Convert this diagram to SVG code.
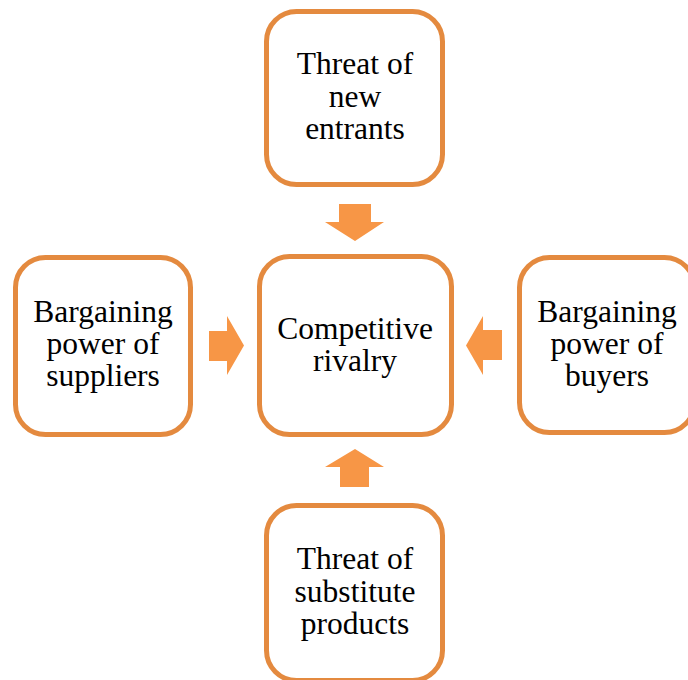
<svg xmlns="http://www.w3.org/2000/svg" width="688" height="680" viewBox="0 0 688 680">
  <style>
    .box { fill: #ffffff; stroke: #E48A3F; stroke-width: 5; }
    .arrow { fill: #F79646; stroke: none; }
    .label { font-family: 'Liberation Serif', 'Times New Roman', Tinos, 'DejaVu Serif', serif; font-size: 31.5px; fill: #000000; text-anchor: middle; }
  </style>
  <rect width="688" height="680" fill="#ffffff"/>

  <g id="connectors">
    <!-- down arrow from top node -->
    <polygon class="arrow" points="339,204 371,204 371,222 384,222 355,241 325,222 339,222"/>
    <!-- right arrow from left node -->
    <polygon class="arrow" points="209,331 227,331 227,316 244,345.5 227,375 227,361 209,361"/>
    <!-- left arrow from right node -->
    <polygon class="arrow" points="502,330 483,330 483,316 466,345.5 483,375 483,360 502,360"/>
    <!-- up arrow from bottom node -->
    <polygon class="arrow" points="340,487 369,487 369,467 384,467 355,449 325,467 340,467"/>
  </g>

  <g id="node-new-entrants">
    <rect class="box" x="266.5" y="11.5" width="176" height="173" rx="30"/>
    <text class="label" x="355" y="74" font-family="Liberation Serif, serif">Threat of</text>
    <text class="label" x="355" y="107" font-family="Liberation Serif, serif">new</text>
    <text class="label" x="355" y="139" font-family="Liberation Serif, serif">entrants</text>
  </g>

  <g id="node-rivalry">
    <rect class="box" x="259.5" y="256.5" width="192" height="178" rx="30"/>
    <text class="label" x="355" y="339">Competitive</text>
    <text class="label" x="355" y="371">rivalry</text>
  </g>

  <g id="node-suppliers">
    <rect class="box" x="15.5" y="257.5" width="175" height="177" rx="30"/>
    <text class="label" x="103" y="322">Bargaining</text>
    <text class="label" x="103" y="354">power of</text>
    <text class="label" x="103" y="386">suppliers</text>
  </g>

  <g id="node-buyers">
    <rect class="box" x="519.5" y="257.5" width="175" height="175" rx="30"/>
    <text class="label" x="607" y="322">Bargaining</text>
    <text class="label" x="607" y="354">power of</text>
    <text class="label" x="607" y="386">buyers</text>
  </g>

  <g id="node-substitutes">
    <rect class="box" x="266.5" y="505.5" width="176" height="175" rx="30"/>
    <text class="label" x="355" y="569">Threat of</text>
    <text class="label" x="355" y="602">substitute</text>
    <text class="label" x="355" y="634">products</text>
  </g>
</svg>
